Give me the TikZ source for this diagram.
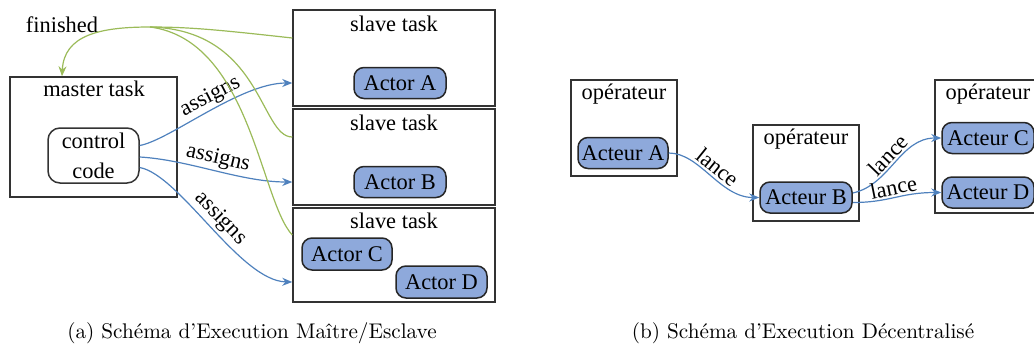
\documentclass[tikz,border=0pt]{standalone}
\usepackage{fontspec}
\newfontfamily\diag{Liberation Serif}
\usetikzlibrary{arrows.meta}
\definecolor{actfill}{HTML}{8EA9DB}
\definecolor{arrowblue}{HTML}{4F81BD}
\definecolor{linegreen}{HTML}{9BBB59}
\begin{document}
\begin{tikzpicture}[x=0.5pt,y=-0.5pt,
  font=\diag\fontsize{11.2}{13.5}\selectfont,
  box/.style={draw=black!80, line width=0.75pt, inner sep=0pt},
  actor/.style={draw=black!85, fill=actfill, rounded corners=5pt, line width=0.75pt, inner sep=0pt, minimum height=15.5pt},
  lbl/.style={inner sep=0pt, anchor=base},
  bluearrow/.style={draw=arrowblue, line width=0.6pt, -{Stealth[length=5pt,width=4pt]}},
  greenline/.style={draw=linegreen, line width=0.6pt},
  greenarrow/.style={greenline, -{Stealth[length=5pt,width=4pt]}},
  edgelbl/.style={sloped, above, inner sep=1pt},
  captext/.style={font=\rmfamily\fontsize{10.6}{12.5}\selectfont, anchor=base, inner sep=0pt}
]
\useasboundingbox (0,0) rectangle (1034,349);
\clip (0,0) rectangle (1034,349);

% ---------- left panel ----------
\node[box, minimum width=83.5pt, minimum height=60pt] (master) at (93.5,137) {};
\node[lbl] (masterlbl) at (94,96) {master task};
\node[box, rounded corners=6pt, minimum width=45.5pt, minimum height=27.5pt, align=center,
      font=\diag\fontsize{11.2}{15}\selectfont] (ctrl) at (93.5,155.5) {control\\code};

\node[box, minimum width=101pt, minimum height=48pt] (s1) at (394,58) {};
\node[box, minimum width=101pt, minimum height=48pt] (s2) at (394,157) {};
\node[box, minimum width=101pt, minimum height=47pt] (s3) at (394,255) {};
\node[lbl] (s1lbl) at (394,31) {slave task};
\node[lbl] (s2lbl) at (394,130) {slave task};
\node[lbl] (s3lbl) at (394,228) {slave task};

\node[actor, minimum width=46pt] (actA) at (400,83) {Actor A};
\node[actor, minimum width=46pt] (actB) at (400,182) {Actor B};
\node[actor, minimum width=45pt, minimum height=16pt] (actC) at (347,254) {Actor C};
\node[actor, minimum width=45.5pt, minimum height=16pt] (actD) at (441.5,282) {Actor D};

\node[lbl] (fin) at (62,32) {finished};

\draw[bluearrow] ([yshift=5pt]ctrl.east) .. controls (170,140) and (240,83) .. (s1.west |- actA)
  node[edgelbl, pos=0.55] {assigns};
\draw[bluearrow] ([yshift=-0.75pt]ctrl.east) .. controls (190,160) and (240,182) .. (s2.west |- actB)
  node[edgelbl, pos=0.5] {assigns};
\draw[bluearrow] ([yshift=-6pt]ctrl.east) .. controls (180,175) and (240,281) .. (s3.west |- actD)
  node[edgelbl, pos=0.5] {assigns};

\coordinate (hub) at (150,27);
\draw[greenarrow] ([yshift=10pt]s1.west) .. controls (220,30) and (190,27) .. (hub)
  .. controls (100,27) and (64,35) .. ([xshift=-15.75pt]master.north);
\draw[greenline] ([yshift=10pt]s2.west) .. controls (260,137) and (262,30) .. (hub);
\draw[greenline] ([yshift=10pt]s3.west) .. controls (260,200) and (250,40) .. (hub);

% ---------- right panel ----------
\node[box, minimum width=53pt, minimum height=48pt] (op1) at (624,128) {};
\node[box, minimum width=53pt, minimum height=48pt] (op2) at (806,173) {};
\node[box, minimum width=53pt, minimum height=66.5pt] (op3) at (988,146.5) {};
\node[lbl] (op1lbl) at (624,99) {opérateur};
\node[lbl] (op2lbl) at (806,144) {opérateur};
\node[lbl] (op3lbl) at (988,99) {opérateur};

\node[actor, minimum width=45pt] (acA) at (623,153) {Acteur A};
\node[actor, minimum width=46pt] (acB) at (806,197.5) {Acteur B};
\node[actor, minimum width=46pt] (acC) at (988,138) {Acteur C};
\node[actor, minimum width=46pt] (acD) at (988,192.5) {Acteur D};

\draw[bluearrow] (acA.east) .. controls (700,153) and (720,197.5) .. (acB.west)
  node[edgelbl, pos=0.5] {lance};
\draw[bluearrow] ([yshift=2.25pt]acB.east) .. controls (890,185) and (900,138) .. (acC.west)
  node[edgelbl, pos=0.5] {lance};
\draw[bluearrow] ([yshift=-2.5pt]acB.east) .. controls (890,202.5) and (900,192.5) .. (acD.west)
  node[edgelbl, pos=0.5] {lance};

% ---------- captions ----------
\node[captext] (capa) at (252,338) {(a) Schéma d'Execution Maître/Esclave};
\node[captext] (capb) at (803,338) {(b) Schéma d'Execution Décentralisé};
\end{tikzpicture}
\end{document}
